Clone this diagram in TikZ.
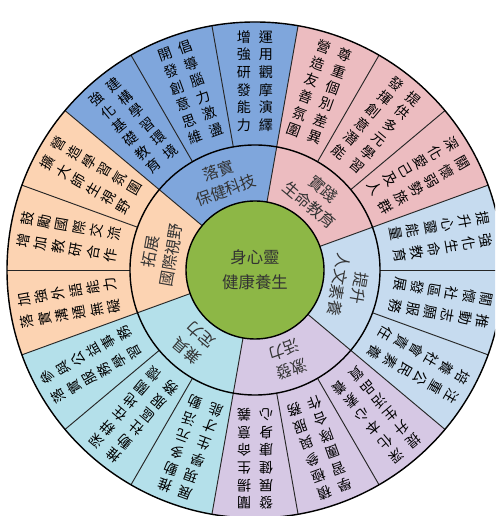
\documentclass[tikz,border=0pt]{standalone}
\usepackage{fontspec}
\setmainfont{Noto Sans CJK TC}[BoldFont=*]
\usetikzlibrary{calc}
\definecolor{sec_blue}{RGB}{127,166,220}
\definecolor{sec_pink}{RGB}{236,188,192}
\definecolor{sec_ltblue}{RGB}{198,219,239}
\definecolor{sec_lav}{RGB}{214,200,228}
\definecolor{sec_cyan}{RGB}{180,224,234}
\definecolor{sec_orange}{RGB}{252,211,178}
\definecolor{hub_green}{RGB}{141,183,70}
\tikzstyle{sepline}=[draw=black!85,line width=0.8pt]
\tikzstyle{ringline}=[draw=black,line width=1.2pt]
\tikzstyle{hubtxt}=[align=center,inner sep=0pt,text=black!80,
  font=\fontsize{14}{21}\selectfont\bfseries]
\tikzstyle{midtxt}=[inner sep=0pt,text=black!80,
  font=\fontsize{13.5}{17}\selectfont\bfseries]
\tikzstyle{outchar}=[inner sep=0pt,text=black,
  font=\fontsize{12}{14}\selectfont]

% one radial column of characters: text, angle, side offset, name
\makeatletter
\newcommand\radcol[4]{%
  \def\rc@i{0}%
  \@tfor\rc@ch:=#1\do{%
    \node[outchar, rotate=#2-90] (#4-\rc@i)
      at ($(#2:{233-17.6*\rc@i})+(#2-90:#3)$) {\rc@ch};
    \pgfmathtruncatemacro\rc@i{\rc@i+1}%
  }}
\makeatother

\begin{document}
\begin{tikzpicture}[x=0.03cm, y=0.03cm]
  \useasboundingbox (0,0) rectangle (495,516);
  \clip (0,0) rectangle (495,516);
  \begin{scope}[shift={(255,246)}]
    % six sectors
    \foreach \a/\c in {20/sec_pink, 80/sec_blue, 140/sec_orange,
                       200/sec_cyan, 260/sec_lav, 320/sec_ltblue}
      \fill[\c] (0,0) -- (\a:248) arc[start angle=\a, end angle=\a+60, radius=248] -- cycle;
    \foreach \a in {0,20,...,340}
      \draw[sepline] (\a:125) -- (\a:248);
    \foreach \a in {20,80,...,320}
      \draw[sepline] (\a:69) -- (\a:125);
    \draw[ringline] (0,0) circle[radius=125];
    \draw[ringline] (0,0) circle[radius=248];
    \draw[ringline, fill=hub_green] (0,0) circle[radius=69];
    \node[hubtxt] (hub) at (0,0) {身心靈\\健康養生};
    % middle ring, outer line and inner line
    \foreach \a/\ta/\tb in {110/落實/保健科技, 50/實踐/生命教育,
                            350/提升/人文素養, 290/激發/活力,
                            230/兼具/定力, 170/拓展/國際視野} {
      \node[midtxt, rotate=\a-90] (mid\a a) at (\a:106) {\ta};
      \node[midtxt, rotate=\a-90] (mid\a b) at (\a:85) {\tb};
    }
    % outer ring, two columns per part
    \foreach \a/\ta/\tb in {90/運用觀摩演繹/增強研發能力,
                            110/倡導腦力激盪/開發創意思維,
                            130/建構學習環境/強化基礎教育,
                            150/營造學習氛圍/擴大師生視野,
                            170/鼓勵國際交流/增加教研合作,
                            190/加強外語能力/落實溝通無礙,
                            210/參與公益事務/落實服務學習,
                            230/深耕在地關懷/推動社區服務,
                            250/推動多元活動/展現學生才能,
                            270/闡揚生命意義/發展健康身心,
                            290/積極參與服務/學習團隊合作,
                            310/深化本心素養/提升生活品質,
                            330/注重公民素養/培養社會責任,
                            350/推動志願服務/關懷社區發展,
                            10/強化生命教育/提升心靈能量,
                            30/關懷弱勢族群/深化愛己及人,
                            50/提供多元學習/發揮創意潛能,
                            70/尊重個別差異/營造友善氛圍} {
      \expandafter\radcol\expandafter{\ta}{\a}{11}{out\a a}
      \expandafter\radcol\expandafter{\tb}{\a}{-11}{out\a b}
    }
  \end{scope}
\end{tikzpicture}
\end{document}
